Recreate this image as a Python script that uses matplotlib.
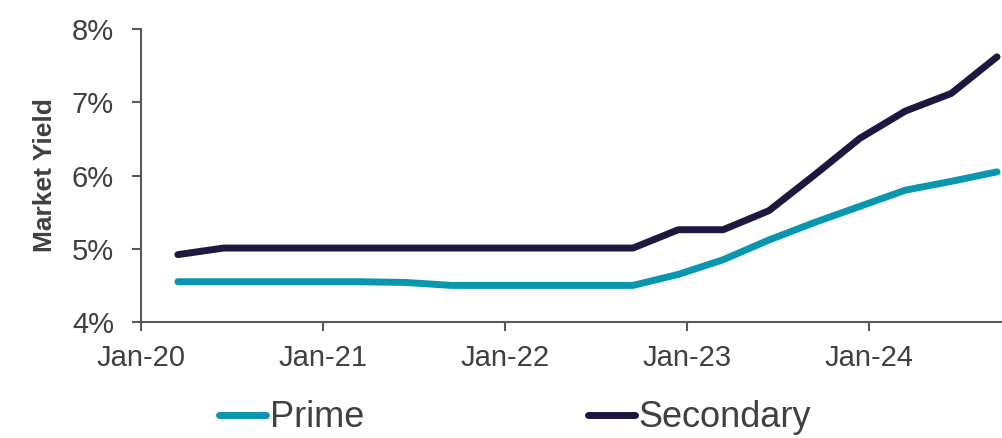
"""Prime vs secondary market yield, quarterly, 2020-2024."""

import matplotlib
matplotlib.use("Agg")
import matplotlib.pyplot as plt
import matplotlib.dates as mdates
import pandas as pd

plt.rcParams["font.family"] = ["Liberation Sans", "DejaVu Sans"]

# Quarterly observations (mid-month of quarter-end month)
DATES = pd.date_range("2020-03-01", periods=19, freq="3MS") + pd.Timedelta(days=14)
PRIME = [4.55, 4.55, 4.55, 4.55, 4.55, 4.54, 4.50, 4.50, 4.50, 4.50, 4.50,
         4.65, 4.85, 5.12, 5.36, 5.58, 5.80, 5.92, 6.05]
SECONDARY = [4.92, 5.01, 5.01, 5.01, 5.01, 5.01, 5.01, 5.01, 5.01, 5.01, 5.01,
             5.26, 5.26, 5.52, 6.01, 6.51, 6.88, 7.12, 7.62]
SERIES_NAMES = ["Prime", "Secondary"]
Y_TICKS = [4, 5, 6, 7, 8]

COL_PRIME = "#0897AE"
COL_SECONDARY = "#1E1841"
COL_AXIS = "#595959"
COL_TEXT = "#404040"


def main() -> None:
    fig = plt.figure(figsize=(10.03, 4.38), dpi=100)
    ax = fig.add_axes([0.1406, 0.2648, 0.8594, 0.669])

    ax.plot(DATES, PRIME, color=COL_PRIME, lw=5, solid_capstyle="round",
            solid_joinstyle="round", label=SERIES_NAMES[0], clip_on=False)
    ax.plot(DATES, SECONDARY, color=COL_SECONDARY, lw=5, solid_capstyle="round",
            solid_joinstyle="round", label=SERIES_NAMES[1], clip_on=False)

    ax.set_ylim(4, 8)
    ax.set_yticks(Y_TICKS)
    ax.set_yticklabels([f"{v}%" for v in Y_TICKS])
    ax.set_xlim(pd.Timestamp("2020-01-01"), pd.Timestamp("2024-09-27"))
    ax.xaxis.set_major_locator(mdates.YearLocator())
    ax.xaxis.set_major_formatter(mdates.DateFormatter("%b-%y"))

    for side in ("top", "right"):
        ax.spines[side].set_visible(False)
    for side in ("left", "bottom"):
        ax.spines[side].set_color(COL_AXIS)
        ax.spines[side].set_linewidth(1.5)
    ax.tick_params(axis="both", colors=COL_AXIS, width=1.5, length=6.5,
                   labelsize=21, labelcolor=COL_TEXT)
    ax.tick_params(axis="y", pad=13)
    ax.tick_params(axis="x", pad=9)

    fig.text(0.045, 0.60, "Market Yield", rotation=90, ha="center", va="center",
             fontsize=19, fontweight="bold", color=COL_TEXT)

    leg = fig.legend(loc="center", bbox_to_anchor=(0.5135, 0.046), ncol=2,
                     frameon=False, fontsize=26, handlelength=1.3,
                     handletextpad=0.1, columnspacing=6.2)
    for txt in leg.get_texts():
        txt.set_color(COL_TEXT)

    fig.savefig("out.png", dpi=100)
    plt.close(fig)


if __name__ == "__main__":
    main()
